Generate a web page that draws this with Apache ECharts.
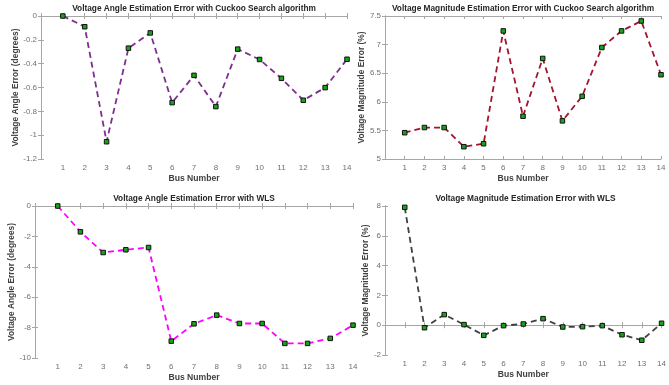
<!DOCTYPE html>
<html><head><meta charset="utf-8">
<script src="https://cdn.jsdelivr.net/npm/echarts@6/dist/echarts.min.js"></script>
<style>html,body{margin:0;padding:0;background:#fff}#c{width:669px;height:385px}</style>
</head><body><div id="c"></div>
<script>
const buses = [1,2,3,4,5,6,7,8,9,10,11,12,13,14];
const angleCuckoo = [0,-0.09,-1.055,-0.27,-0.142,-0.727,-0.498,-0.76,-0.278,-0.365,-0.523,-0.707,-0.601,-0.363];
const magCuckoo = [5.46,5.55,5.55,5.215,5.267,7.239,5.748,6.758,5.667,6.096,6.949,7.239,7.413,6.473];
const angleWLS = [0,-1.70,-3.06,-2.88,-2.73,-8.89,-7.75,-7.18,-7.73,-7.73,-9.04,-9.04,-8.71,-7.84];
const magWLS = [7.91,-0.17,0.71,0.04,-0.68,-0.03,0.08,0.44,-0.12,-0.10,-0.03,-0.64,-1.01,0.13];
const titles = [
  'Voltage Angle Estimation Error with Cuckoo Search algorithm',
  'Voltage Magnitude Estimation Error with Cuckoo Search algorithm',
  'Voltage Angle Estimation Error with WLS',
  'Voltage Magnitude Estimation Error with WLS'
];
const yNames = ['Voltage Angle Error (degrees)','Voltage Magnitude Error (%)','Voltage Angle Error (degrees)','Voltage Magnitude Error (%)'];
const xName = 'Bus Number';
const yRanges = [[-1.2,0,0.2],[5,7.5,0.5],[-10,0,2],[-2,8,2]];
const lineColors = ['#7E2F8E','#A2142F','#FF00FF','#404040'];
const seriesVals = [angleCuckoo, magCuckoo, angleWLS, magWLS];

const grids = [
  {left:41, top:16, width:306, height:143},
  {left:385, top:16, width:276, height:143},
  {left:35, top:206, width:318, height:152},
  {left:385, top:206, width:281, height:149}
];
const yGaps = [15,10,12,9];
const xGaps = [15,15,15,15];
const axisCol = '#a6a6a6';
const labCol = '#707070';
const font = 'Liberation Sans, Arial, sans-serif';

const option = {animation:false, backgroundColor:'#fff', title:[], grid:[], xAxis:[], yAxis:[], series:[]};
grids.forEach((g,i)=>{
  option.grid.push(Object.assign({containLabel:false}, g));
  option.title.push({text:titles[i], left:g.left+g.width/2, top:g.top-11, textAlign:'center', padding:0,
    textStyle:{fontFamily:font, fontSize:8.3, fontWeight:'bold', color:'#262626'}});
  const common = {gridIndex:i, axisLine:{show:true, lineStyle:{color:axisCol, width:1}},
    axisTick:{show:true, inside:true, length:3, lineStyle:{color:axisCol}}, splitLine:{show:false}};
  option.xAxis.push(Object.assign({}, common, {type:'value', min:0, max:14, interval:1, position:'bottom',
    name:xName, nameLocation:'middle', nameGap:xGaps[i],
    nameTextStyle:{fontFamily:font, fontSize:8.6, fontWeight:'bold', color:'#404040'},
    axisLabel:{fontFamily:font, fontSize:8, color:labCol, margin:5, formatter:v=>v===0?'':String(v)}}));
  option.xAxis.push(Object.assign({}, common, {type:'value', min:0, max:14, interval:1, position:'top',
    axisLabel:{show:false}}));
  const r = yRanges[i];
  option.yAxis.push(Object.assign({}, common, {type:'value', min:r[0], max:r[1], interval:r[2], position:'left',
    name:yNames[i], nameLocation:'middle', nameGap:yGaps[i],
    nameTextStyle:{fontFamily:font, fontSize:8.4, fontWeight:'bold', color:'#404040'},
    axisLabel:{fontFamily:font, fontSize:8, color:labCol, margin:4,
      formatter:v=>String(Math.round(v*10)/10)}}));
  option.yAxis.push(Object.assign({}, common, {type:'value', min:r[0], max:r[1], interval:r[2], position:'right',
    axisLabel:{show:false}}));
  option.series.push({type:'line', xAxisIndex:2*i, yAxisIndex:2*i,
    data: buses.map((b,k)=>[b, seriesVals[i][k]]),
    lineStyle:{color:lineColors[i], width:1.8, type:[6,4]},
    symbol:'rect', symbolSize:4.5,
    itemStyle:{color:'#17a317', borderColor:'#111', borderWidth:1},
    z:3});
});
const chart = echarts.init(document.getElementById('c'), null, {renderer:'canvas'});
chart.setOption(option);
</script></body></html>
